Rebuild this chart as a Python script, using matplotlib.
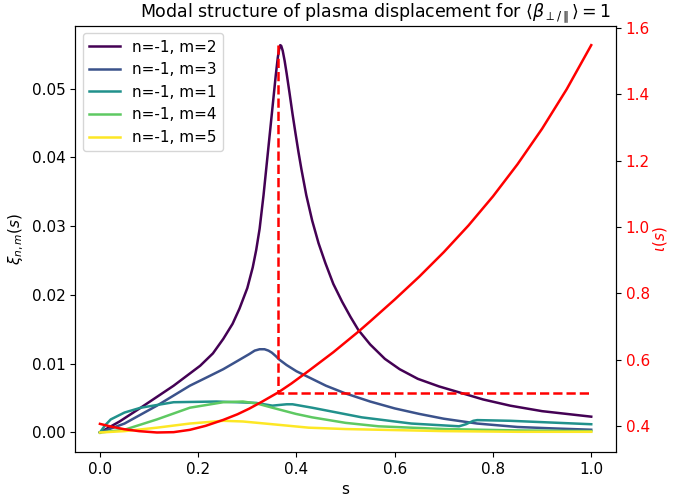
import numpy as np
import matplotlib
matplotlib.use('Agg')
import matplotlib.pyplot as plt

# Mode amplitudes, one s-grid per mode
s_m2 = [0, 0.04, 0.083, 0.15, 0.204, 0.23, 0.251, 0.27, 0.284, 0.30, 0.311, 0.318, 0.325, 0.333,
        0.343, 0.353, 0.358, 0.362, 0.365, 0.367, 0.369, 0.372, 0.376, 0.38, 0.386, 0.392,
        0.398, 0.404, 0.41, 0.42, 0.432, 0.445, 0.459, 0.475, 0.493, 0.51, 0.526, 0.55,
        0.58, 0.61, 0.647, 0.69, 0.728, 0.78, 0.835, 0.9, 0.95, 1.0]
xi_m2 = [0, 0.0016, 0.0036, 0.0068, 0.0097, 0.0115, 0.0136, 0.0158, 0.018, 0.0210, 0.0240, 0.0265,
         0.0296, 0.0345, 0.0415, 0.0485, 0.0520, 0.0545, 0.0558, 0.0563, 0.0562, 0.0555, 0.0540,
         0.0522, 0.0493, 0.0463, 0.0435, 0.0408, 0.0383, 0.0345, 0.0308, 0.0275, 0.0246, 0.0216,
         0.0190, 0.0168, 0.0149, 0.0128, 0.0107, 0.0092, 0.0078, 0.0067, 0.0059, 0.0048, 0.0039,
         0.0031, 0.0027, 0.0023]

s_m3 = [0, 0.05, 0.116, 0.183, 0.22, 0.251, 0.28, 0.304, 0.315, 0.325, 0.335, 0.343, 0.35,
        0.358, 0.365, 0.38, 0.40, 0.423, 0.46, 0.499, 0.55, 0.6, 0.65, 0.7, 0.768, 0.85, 0.92, 1.0]
xi_m3 = [0, 0.0013, 0.0039, 0.0068, 0.0081, 0.0092, 0.0104, 0.0114, 0.0119, 0.0121, 0.0121, 0.0119,
         0.0116, 0.0111, 0.0106, 0.0098, 0.0089, 0.0081, 0.0068, 0.0057, 0.0045, 0.0035, 0.0027,
         0.0020, 0.0013, 0.0008, 0.0006, 0.0004]

s_m1 = [0, 0.01, 0.022, 0.05, 0.083, 0.15, 0.237, 0.318, 0.351, 0.365, 0.38, 0.392, 0.432,
        0.533, 0.634, 0.731, 0.745, 0.76, 0.768, 0.835, 1.0]
xi_m1 = [0, 0.0010, 0.0019, 0.0029, 0.0036, 0.0044, 0.0045, 0.0043, 0.0039, 0.0040, 0.0041, 0.0041,
         0.0036, 0.0022, 0.0013, 0.0009, 0.0012, 0.0017, 0.0018, 0.0017, 0.0012]

s_m4 = [0, 0.05, 0.116, 0.183, 0.251, 0.291, 0.32, 0.351, 0.399, 0.432, 0.5, 0.567, 0.701, 0.85, 1.0]
xi_m4 = [0, 0.0004, 0.0019, 0.0036, 0.0044, 0.0045, 0.0042, 0.0036, 0.0027, 0.0022, 0.0014, 0.0009,
         0.0005, 0.0003, 0.0002]

s_m5 = [0, 0.05, 0.116, 0.183, 0.251, 0.291, 0.351, 0.425, 0.5, 0.567, 0.7, 0.85, 1.0]
xi_m5 = [0, 0.0002, 0.0007, 0.0013, 0.0017, 0.0016, 0.0012, 0.0007, 0.0005, 0.0004, 0.0002, 0.0001, 0.0001]

labels = ['n=-1, m=2', 'n=-1, m=3', 'n=-1, m=1', 'n=-1, m=4', 'n=-1, m=5']

# rotational transform profile
s_iota = [0, 0.025, 0.049, 0.08, 0.116, 0.15, 0.183, 0.215, 0.251, 0.28, 0.304, 0.33, 0.363,
          0.39, 0.425, 0.475, 0.526, 0.55, 0.6, 0.65, 0.7, 0.75, 0.8, 0.85, 0.9, 0.95, 1.0]
iota = [0.406, 0.397, 0.390, 0.384, 0.380, 0.381, 0.388, 0.400, 0.418, 0.435, 0.452, 0.473, 0.501,
        0.528, 0.566, 0.622, 0.684, 0.715, 0.781, 0.850, 0.924, 1.004, 1.092, 1.189, 1.296,
        1.415, 1.548]

# resonance position (iota = 1/2)
s_res = 0.363
iota_res = 0.5

plt.rcParams['font.size'] = 11
plt.rcParams['lines.linewidth'] = 1.8

fig, ax = plt.subplots(figsize=(6.73, 4.96), dpi=100)
colors = plt.cm.viridis(np.linspace(0, 1, 5))

modes = [(s_m2, xi_m2), (s_m3, xi_m3), (s_m1, xi_m1), (s_m4, xi_m4), (s_m5, xi_m5)]
for (s, xi), lab, c in zip(modes, labels, colors):
    ax.plot(s, xi, color=c, label=lab)

ax.set_xlabel('s')
ax.set_ylabel(r'$\xi_{n,m}(s)$')
ax.set_title(r'Modal structure of plasma displacement for $\langle\beta_{\perp/\parallel}\rangle = 1$',
             fontsize=12.5, x=0.555)
ax.legend(loc='upper left', fontsize=11)

ax2 = ax.twinx()
ax2.plot(s_iota, iota, color='red')
ax2.plot([s_res, s_res, 1.0], [max(iota), iota_res, iota_res], color='red', linestyle='--')
ax2.set_ylabel(r'$\iota(s)$', color='red', labelpad=1)
ax2.tick_params(axis='y', labelcolor='red')

plt.subplots_adjust(left=0.112, right=0.915, top=0.948, bottom=0.089)
plt.savefig('out.png')
